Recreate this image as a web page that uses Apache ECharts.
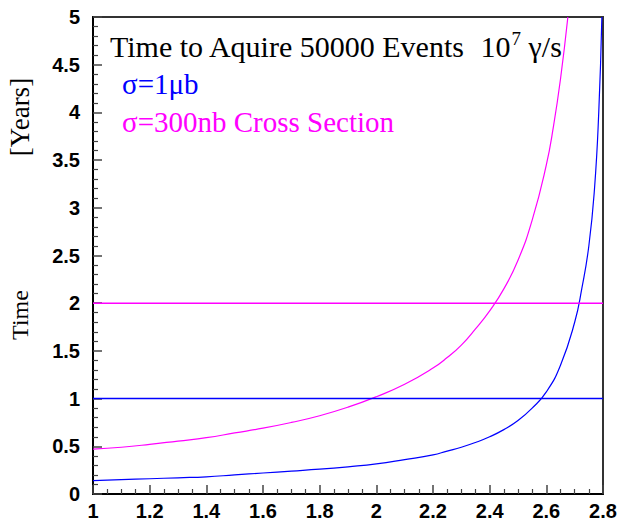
<!DOCTYPE html>
<html>
<head>
<meta charset="utf-8">
<script src="https://cdn.jsdelivr.net/npm/echarts@6/dist/echarts.min.js"></script>
<style>
  html, body { margin: 0; padding: 0; background: #fff; }
  #chart { width: 623px; height: 523px; }
</style>
</head>
<body>
<div id="chart"></div>
<script>
// values
const xTicks = [1, 1.2, 1.4, 1.6, 1.8, 2, 2.2, 2.4, 2.6, 2.8];
const yTicks = [0, 0.5, 1, 1.5, 2, 2.5, 3, 3.5, 4, 4.5, 5];

// sigma = 1 microbarn (blue)
const xBlue = [1.0, 1.1, 1.2, 1.3, 1.4, 1.5, 1.6, 1.7, 1.8, 1.9, 2.0, 2.1, 2.2, 2.25, 2.3, 2.35, 2.4, 2.45, 2.5, 2.55, 2.6, 2.65, 2.7, 2.725, 2.75, 2.77, 2.785, 2.796];
const tBlue = [0.14, 0.15, 0.16, 0.17, 0.18, 0.20, 0.22, 0.24, 0.26, 0.285, 0.315, 0.36, 0.41, 0.45, 0.49, 0.54, 0.60, 0.675, 0.77, 0.90, 1.07, 1.35, 1.8, 2.15, 2.6, 3.2, 4.0, 5.0];

// sigma = 300 nb (magenta)
const xMag = [1.0, 1.1, 1.2, 1.3, 1.4, 1.5, 1.6, 1.7, 1.8, 1.9, 2.0, 2.1, 2.2, 2.25, 2.3, 2.35, 2.4, 2.45, 2.5, 2.55, 2.6, 2.625, 2.65, 2.676];
const tMag = [0.47, 0.49, 0.52, 0.555, 0.59, 0.64, 0.69, 0.75, 0.82, 0.91, 1.02, 1.15, 1.32, 1.43, 1.56, 1.73, 1.92, 2.15, 2.45, 2.87, 3.45, 3.85, 4.35, 5.0];

// reference levels
const levelBlue = 1;
const levelMag = 2;

const BLUE = '#0000ff';
const MAGENTA = '#ff00ff';

function pairs(xs, ys) {
  return xs.map((x, i) => [x, ys[i]]);
}

const chart = echarts.init(document.getElementById('chart'), null, { renderer: 'svg' });

const labelStyle = {
  color: '#000',
  fontFamily: 'Liberation Sans',
  fontWeight: 'bold',
  fontSize: 20
};

const option = {
  animation: false,
  backgroundColor: '#fff',
  grid: {
    left: 93, right: 20, top: 17, bottom: 29,
    show: true,
    borderColor: '#333',
    borderWidth: 2,
    containLabel: false
  },
  xAxis: {
    type: 'value',
    min: xTicks[0],
    max: xTicks[xTicks.length - 1],
    interval: 0.2,
    axisLine: { show: true, onZero: false, lineStyle: { color: '#000', width: 2 } },
    axisTick: { show: true, inside: true, length: 9, lineStyle: { color: '#444', width: 1.5 } },
    minorTick: { show: true, splitNumber: 4, length: 5, lineStyle: { color: '#444', width: 1.2 } },
    splitLine: { show: false },
    axisLabel: Object.assign({ margin: 7, formatter: v => String(+v.toFixed(1)) }, labelStyle)
  },
  yAxis: {
    type: 'value',
    min: yTicks[0],
    max: yTicks[yTicks.length - 1],
    interval: 0.5,
    axisLine: { show: true, onZero: false, lineStyle: { color: '#000', width: 2 } },
    axisTick: { show: true, inside: true, length: 9, lineStyle: { color: '#444', width: 1.5 } },
    minorTick: { show: true, splitNumber: 5, length: 5, lineStyle: { color: '#444', width: 1.2 } },
    splitLine: { show: false },
    axisLabel: Object.assign({ margin: 13, formatter: v => String(+v.toFixed(1)) }, labelStyle)
  },
  series: [
    {
      name: 'blue curve',
      type: 'line',
      data: pairs(xBlue, tBlue),
      showSymbol: false,
      smooth: 0.5,
      clip: true,
      lineStyle: { color: BLUE, width: 1.2 }
    },
    {
      name: 'magenta curve',
      type: 'line',
      data: pairs(xMag, tMag),
      showSymbol: false,
      smooth: 0.5,
      clip: true,
      lineStyle: { color: MAGENTA, width: 1.2 }
    },
    {
      name: 'blue level',
      type: 'line',
      data: [[xTicks[0], levelBlue], [xTicks[xTicks.length - 1], levelBlue]],
      showSymbol: false,
      lineStyle: { color: BLUE, width: 1.5 }
    },
    {
      name: 'magenta level',
      type: 'line',
      data: [[xTicks[0], levelMag], [xTicks[xTicks.length - 1], levelMag]],
      showSymbol: false,
      lineStyle: { color: MAGENTA, width: 1.5 }
    }
  ],
  graphic: [
    {
      type: 'text', x: 110, y: 46,
      style: {
        text: 'Time to Aquire 50000 Events  {n|10}{s|7}{n| γ/s}',
        fill: '#000',
        font: '30px "Liberation Serif"',
        verticalAlign: 'middle',
        rich: {
          n: { fontFamily: 'Liberation Serif', fontSize: 30, fill: '#000' },
          s: { fontFamily: 'Liberation Serif', fontSize: 19, fill: '#000', padding: [0, 0, 16, 1] }
        }
      }
    },
    {
      type: 'text', x: 122, y: 84,
      style: { text: 'σ=1μb', fill: BLUE, font: '29px "Liberation Serif"', verticalAlign: 'middle' }
    },
    {
      type: 'text', x: 122, y: 122,
      style: { text: 'σ=300nb Cross Section', fill: MAGENTA, font: '29px "Liberation Serif"', verticalAlign: 'middle' }
    },
    {
      type: 'text', x: 20, y: 315, rotation: Math.PI / 2,
      style: { text: 'Time', fill: '#000', font: '24px "Liberation Serif"', align: 'center', verticalAlign: 'middle' }
    },
    {
      type: 'text', x: 20, y: 117, rotation: Math.PI / 2,
      style: { text: '[Years]', fill: '#000', font: '27px "Liberation Serif"', align: 'center', verticalAlign: 'middle' }
    }
  ]
};

chart.setOption(option);
</script>
</body>
</html>
